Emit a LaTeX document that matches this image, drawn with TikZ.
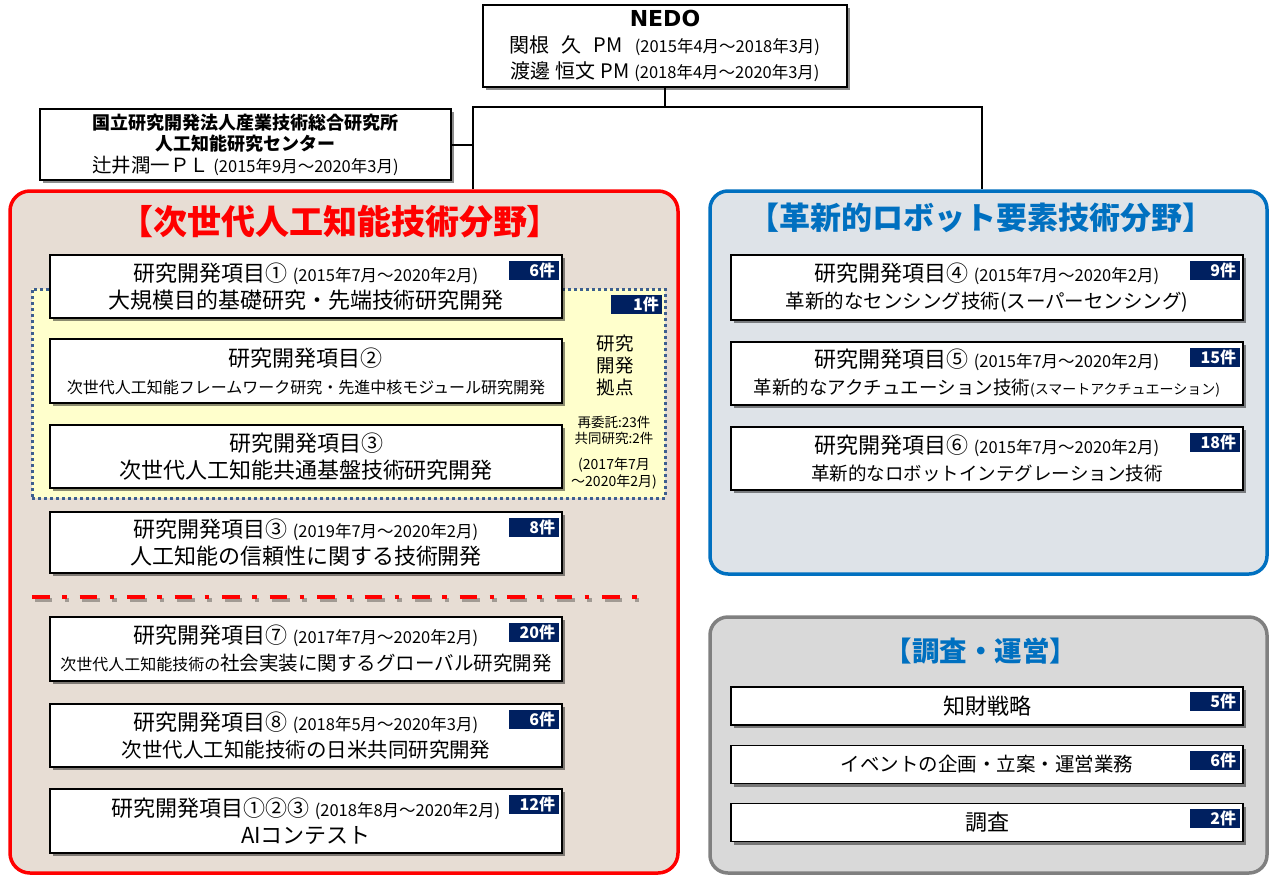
\documentclass[tikz,border=0pt]{standalone}
\usepackage{fontspec}
\setmainfont{Noto Sans CJK JP}
\newfontfamily\latinfont{DejaVu Sans}
\usetikzlibrary{shadows}
\newcommand\myfs[2]{\fontsize{#1pt}{#2pt}\selectfont}
\newcommand\mydate[1]{{\myfs{16.5}{27}#1}}
\definecolor{navy}{HTML}{002060}
\definecolor{aired}{HTML}{FF0000}
\definecolor{blueline}{HTML}{0070C0}
\definecolor{aifill}{HTML}{E7DDD4}
\definecolor{robfill}{HTML}{DEE3E8}
\definecolor{opfill}{HTML}{D9D9D9}
\definecolor{opline}{HTML}{808080}
\definecolor{hubfill}{HTML}{FFFFCC}
\definecolor{hubline}{HTML}{3D5F8F}
\begin{document}
\begin{tikzpicture}[x=1pt,y=-1pt,
  shadowed/.style={drop shadow={shadow xshift=3pt,shadow yshift=-3pt,opacity=0.45,fill=black}},
  item/.style={shadowed,draw=black,line width=1.8pt,fill=white,minimum width=512pt,minimum height=63pt,inner sep=0pt,align=center,font=\myfs{22}{27}},
  gitem/.style={item,minimum height=38pt,font=\myfs{22}{26}},
  badge/.style={fill=navy,text=white,font=\bfseries\myfs{16}{16},text width=43pt,align=right,minimum height=19pt,inner xsep=3.5pt,inner ysep=0pt,anchor=north east},
  topbox/.style={shadowed,draw=black,line width=1.2pt,fill=white,inner sep=0pt,align=center},
  area/.style={line width=3.5pt,rounded corners=20pt,inner sep=0pt},
  conn/.style={line width=2pt,draw=black},
  sidetext/.style={align=center,inner sep=0pt}
]
\useasboundingbox (0,0) rectangle (1270,876);
\fill[white] (0,0) rectangle (1270,876);

% areas
\node[area,draw=aired,fill=aifill,minimum width=668pt,minimum height=682pt] (aibox) at (344,532) {};
\node[area,draw=blueline,fill=robfill,minimum width=557pt,minimum height=383pt,rounded corners=18pt] (robox) at (988.5,382.5) {};
\node[area,draw=opline,fill=opfill,minimum width=557pt,minimum height=256pt,rounded corners=18pt] (opbox) at (988.5,745) {};

% headings
\node[text=aired,font=\bfseries\myfs{34}{36}] (h1) at (340,222) {【次世代人工知能技術分野】};
\node[text=blueline,font=\bfseries\myfs{31}{34}] (h2) at (981,218) {【革新的ロボット要素技術分野】};
\node[text=blueline,font=\bfseries\myfs{27.5}{30}] (h3) at (981,651) {【調査・運営】};

% top boxes
\node[topbox,minimum width=364pt,minimum height=82pt,font=\myfs{20}{26}] (nedo) at (665,46)
  {{\latinfont\bfseries\myfs{22}{26}NEDO}\\
   関根\hspace{12pt}久\hspace{12pt}PM\hspace{12pt}\mydate{(2015年4月～2018年3月)}\\
   渡邊\hspace{5pt}恒文\hspace{5pt}PM\hspace{5pt}\mydate{(2018年4月～2020年3月)}};
\node[topbox,minimum width=411pt,minimum height=71pt,font=\myfs{18}{21.5}] (aist) at (245.5,144.5)
  {{\bfseries 国立研究開発法人産業技術総合研究所}\\
   {\bfseries 人工知能研究センター}\\
   {\myfs{19.5}{21.5}辻井潤一ＰＬ}\hspace{4pt}\mydate{(2015年9月～2020年3月)}};

% connectors
\coordinate (jl) at (473,107);
\coordinate (jr) at (982,107);
\draw[conn] (nedo.south) -- (nedo.south |- jl);
\draw[conn] (jl |- aibox.north) -- (jl) -- (jr) -- (jr |- robox.north);
\draw[conn] (aist.east) -- (aist.east -| jl);

% research hub (dotted)
\node[draw=hubline,fill=hubfill,line width=3pt,dash pattern=on 3pt off 3pt,minimum width=633pt,minimum height=209pt,inner sep=0pt] (hub) at (348.5,393.5) {};
\node[badge,text width=44pt] (bhub) at ([xshift=-4pt,yshift=-7pt]hub.north east) {1件};
\node[sidetext,font=\myfs{18.5}{22}] (hubt) at (615,365) {研究\\開発\\拠点};
\node[sidetext,font=\myfs{13.5}{16}] (hubn) at (614,430) {再委託:23件\\共同研究:2件};
\node[sidetext,font=\myfs{14}{17}] (hubd) at (614,473.5) {(2017年7月\\～2020年2月)};

% left items
\node[item] (i1) at (306,286.5) {研究開発項目① \mydate{(2015年7月～2020年2月)}\\大規模目的基礎研究・先端技術研究開発};
\node[badge] (b1) at ([xshift=-4pt,yshift=-7pt]i1.north east) {6件};
\node[item,minimum height=64pt] (i2) at (306,371) {研究開発項目②\\{\myfs{16}{27}次世代人工知能フレームワーク研究・先進中核モジュール研究開発}};
\node[item] (i3) at (306,456.5) {研究開発項目③\\次世代人工知能共通基盤技術研究開発};
\node[item,minimum height=61pt] (i4) at (306,542.5) {研究開発項目③ \mydate{(2019年7月～2020年2月)}\\人工知能の信頼性に関する技術開発};
\node[badge] (b4) at ([xshift=-4pt,yshift=-7pt]i4.north east) {8件};

% separator
\coordinate (sa) at (32,597);
\coordinate (sb) at (645,597);
\draw[black,opacity=0.3,line width=4pt,dash pattern=on 17.5pt off 12.5pt on 4.5pt off 13pt,transform canvas={xshift=2.5pt,yshift=-2.5pt}] (sa) -- (sb);
\draw[aired,line width=4pt,dash pattern=on 17.5pt off 12.5pt on 4.5pt off 13pt] (sa) -- (sb);

\node[item,minimum height=64pt] (i7) at (306,649) {研究開発項目⑦ \mydate{(2017年7月～2020年2月)}\\{\myfs{16}{27}次世代人工知能技術の}{\myfs{19.5}{27}社会実装に関するグローバル研究開発}};
\node[badge] (b7) at ([xshift=-4pt,yshift=-7pt]i7.north east) {20件};
\node[item] (i8) at (306,735.5) {研究開発項目⑧ \mydate{(2018年5月～2020年3月)}\\{\myfs{20.5}{27}次世代人工知能技術の日米共同研究開発}};
\node[badge] (b8) at ([xshift=-4pt,yshift=-7pt]i8.north east) {6件};
\node[item,minimum height=64pt] (i9) at (306,821) {研究開発項目①②③ \mydate{(2018年8月～2020年2月)}\\AIコンテスト};
\node[badge] (b9) at ([xshift=-4pt,yshift=-7pt]i9.north east) {12件};

% right items
\node[item,minimum height=65pt] (r4) at (987,287.5) {研究開発項目④ \mydate{(2015年7月～2020年2月)}\\{\myfs{19.5}{27}革新的なセンシング技術(スーパーセンシング)}};
\node[badge] (c4) at ([xshift=-4pt,yshift=-7pt]r4.north east) {9件};
\node[item] (r5) at (987,373.5) {研究開発項目⑤ \mydate{(2015年7月～2020年2月)}\\{\myfs{18.5}{27}革新的なアクチュエーション技術}{\myfs{14}{27}(スマートアクチュエーション)}};
\node[badge] (c5) at ([xshift=-4pt,yshift=-7pt]r5.north east) {15件};
\node[item] (r6) at (987,458.5) {研究開発項目⑥ \mydate{(2015年7月～2020年2月)}\\{\myfs{18.5}{27}革新的なロボットインテグレーション技術}};
\node[badge] (c6) at ([xshift=-4pt,yshift=-7pt]r6.north east) {18件};

% gray items
\node[gitem] (g1) at (987,706) {知財戦略};
\node[badge] (d1) at ([xshift=-4pt,yshift=-6pt]g1.north east) {5件};
\node[gitem,font=\myfs{19.5}{26}] (g2) at (987,764.5) {イベントの企画・立案・運営業務};
\node[badge] (d2) at ([xshift=-4pt,yshift=-6pt]g2.north east) {6件};
\node[gitem] (g3) at (987,822.5) {調査};
\node[badge] (d3) at ([xshift=-4pt,yshift=-6pt]g3.north east) {2件};
\end{tikzpicture}
\end{document}
